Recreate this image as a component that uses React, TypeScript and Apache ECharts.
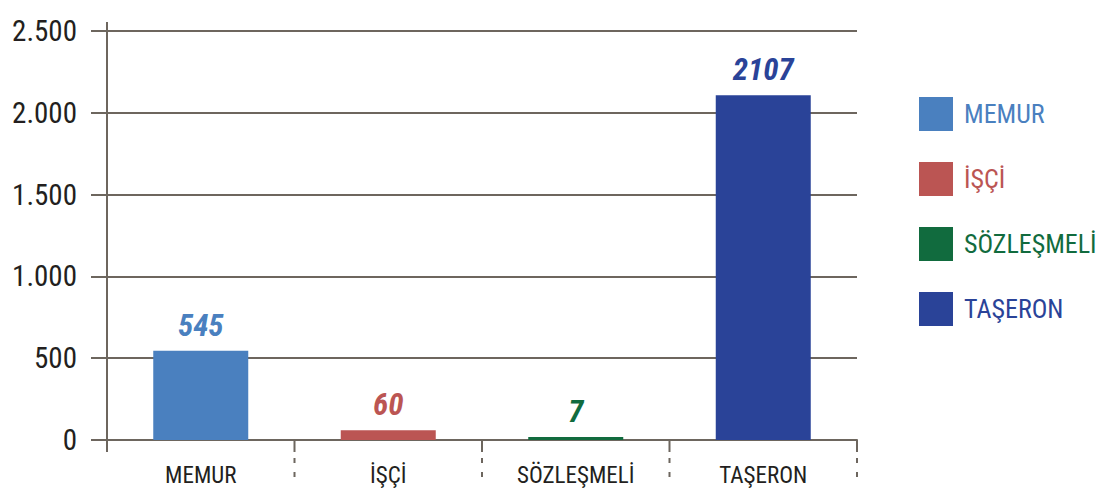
import React, { useEffect, useRef } from "react";
import * as echarts from "echarts";

const categories = ["MEMUR", "İŞÇİ", "SÖZLEŞMELİ", "TAŞERON"];
const values = [545, 60, 7, 2107];
const colors = ["#4a80bf", "#bb5553", "#116b3e", "#2a4398"];
const yMin = 0;
const yMax = 2500;
const yInterval = 500;

const FONT = "'Roboto Condensed', 'Roboto', sans-serif";
const AXIS = "#6d665e";
const TEXT = "#231f20";

export default function App() {
  const ref = useRef<HTMLDivElement>(null);
  useEffect(() => {
    if (!ref.current) return;
    const chart = echarts.init(ref.current, null, { renderer: "svg" });
    const series = categories.map((name, i) => ({
      name,
      type: "bar",
      stack: "all",
      barWidth: 95,
      barMinHeight: 3,
      itemStyle: { color: colors[i] },
      label: {
        show: true,
        position: "top",
        distance: 10,
        color: colors[i],
        fontFamily: FONT,
        fontStyle: "italic",
        fontWeight: "bold",
        fontSize: 31,
      },
      data: categories.map((_, j) => (j === i ? values[i] : null)),
    }));
    chart.setOption({
      animation: false,
      grid: { left: 107, right: 248, top: 31, bottom: 57, containLabel: false, outerBoundsMode: "none" },
      legend: {
        orient: "vertical",
        left: 914,
        top: 92,
        itemWidth: 34,
        itemHeight: 34,
        itemGap: 31,
        icon: "rect",
        data: categories.map((name, i) => ({
          name,
          textStyle: { color: colors[i], fontFamily: FONT, fontSize: 26, padding: [0, 0, 0, 6] },
        })),
        textStyle: { fontFamily: FONT, fontSize: 26, padding: [0, 0, 0, 6] },
      },
      xAxis: {
        type: "category",
        data: categories,
        axisLine: { lineStyle: { color: AXIS, width: 2 } },
        axisTick: { show: false },
        axisLabel: { color: TEXT, fontFamily: FONT, fontSize: 23, margin: 24, interval: 0 },
      },
      yAxis: {
        type: "value",
        min: yMin,
        max: yMax,
        interval: yInterval,
        axisLine: { show: false },
        axisTick: { show: true, length: 16, lineStyle: { color: AXIS, width: 2 } },
        splitLine: { lineStyle: { color: AXIS, width: 2 } },
        axisLabel: {
          color: TEXT,
          fontFamily: FONT,
          fontSize: 29,
          margin: 30,
          formatter: (v: number) => v.toLocaleString("de-DE"),
        },
      },
      series,
    });

    const x0 = chart.convertToPixel({ xAxisIndex: 0 }, 0) as number;
    const x1 = chart.convertToPixel({ xAxisIndex: 0 }, 1) as number;
    const band = x1 - x0;
    const yZero = chart.convertToPixel({ yAxisIndex: 0 }, yMin) as number;
    const yTop = chart.convertToPixel({ yAxisIndex: 0 }, yMax) as number;
    const left = x0 - band / 2;
    const graphics: any[] = [
      {
        type: "line",
        shape: { x1: left, y1: yTop - 9, x2: left, y2: yZero + 12 },
        style: { stroke: AXIS, lineWidth: 2 },
        z: 10,
      },
    ];
    for (let i = 1; i <= categories.length; i++) {
      const bx = left + band * i;
      graphics.push({
        type: "line",
        shape: { x1: bx, y1: yZero, x2: bx, y2: yZero + 38 },
        style: { stroke: AXIS, lineWidth: 2, lineDash: [12, 6, 5, 9, 5, 50] },
        z: 10,
      });
    }
    chart.setOption({ graphic: graphics });

    return () => chart.dispose();
  }, []);
  return <div ref={ref} style={{ width: 1105, height: 497, margin: -8 }} />;
}
